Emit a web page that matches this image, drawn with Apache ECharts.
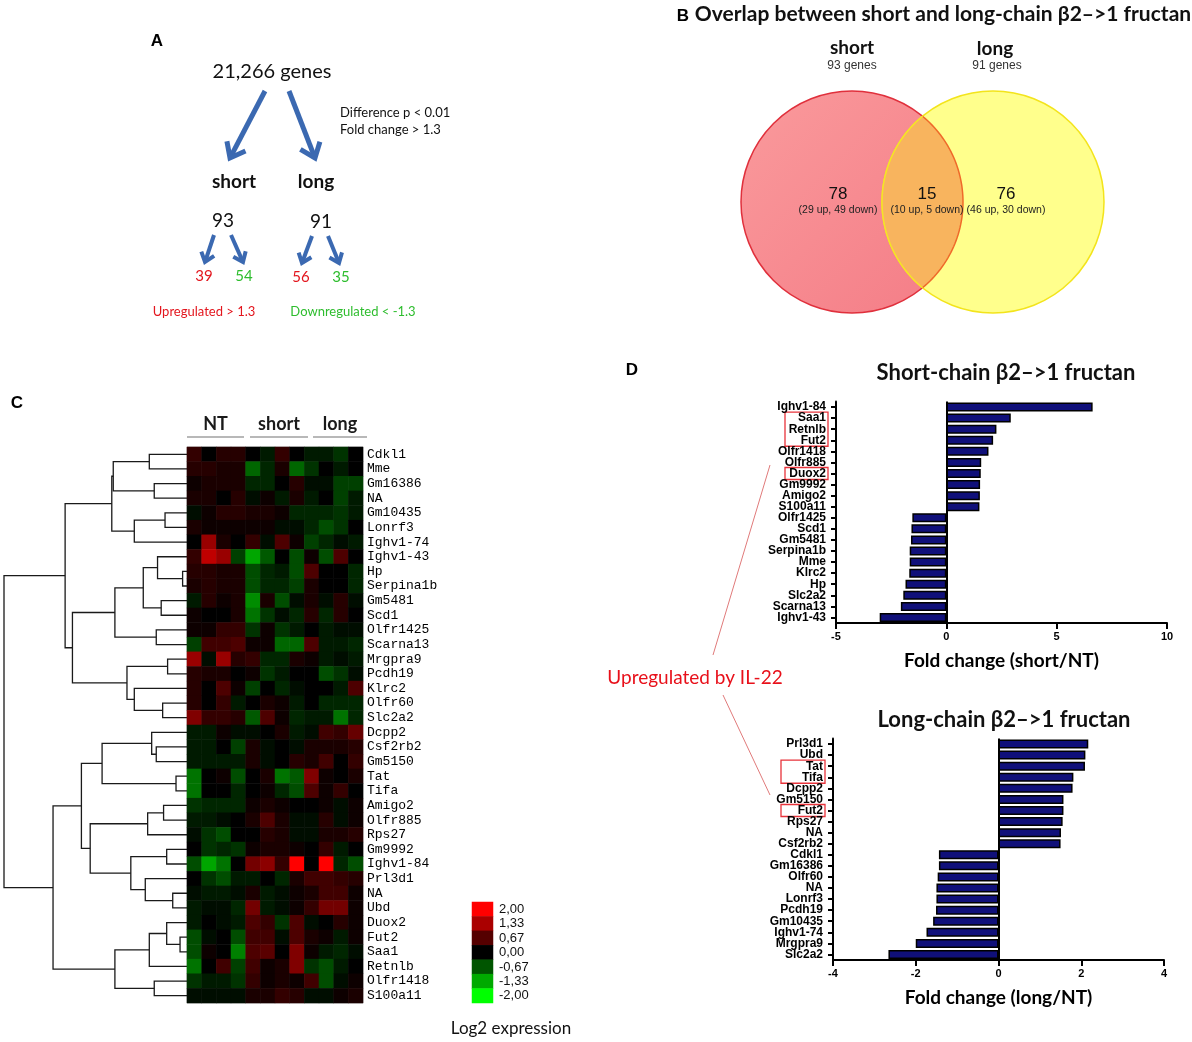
<!DOCTYPE html>
<html>
<head>
<meta charset="utf-8">
<script src="https://cdn.jsdelivr.net/npm/echarts@6/dist/echarts.min.js"></script>
<style>html,body{margin:0;padding:0;background:#fff}#c{width:1192px;height:1042px}</style>
</head>
<body>
<div id="c"></div>
<script>
// ---------------- DATA ----------------
// Panel A
const totalLabel = '21,266 genes';
const criteria = ['Difference p < 0.01', 'Fold change > 1.3'];
const groups = ['short', 'long'];
const groupTotals = [93, 91];
const groupUp = [39, 56];
const groupDown = [54, 35];
const regLabels = ['Upregulated > 1.3', 'Downregulated < -1.3'];

// Panel B (Venn)
const vennTitle = 'Overlap between short and long-chain \u03b22\u2013>1 fructan';
const vennSets = ['short', 'long'];
const vennSetSizes = ['93 genes', '91 genes'];
const vennCounts = [78, 15, 76];
const vennDetails = ['(29 up, 49 down)', '(10 up, 5 down)', '(46 up, 30 down)'];

// Panel C (heatmap)
const heatGroups = ['NT', 'short', 'long'];
const heatColumns = ['NT1','NT2','NT3','NT4','S1','S2','S3','S4','L1','L2','L3','L4'];
const heatGenes = ['Cdkl1','Mme','Gm16386','NA','Gm10435','Lonrf3','Ighv1-74','Ighv1-43','Hp','Serpina1b',
  'Gm5481','Scd1','Olfr1425','Scarna13','Mrgpra9','Pcdh19','Klrc2','Olfr60','Slc2a2','Dcpp2',
  'Csf2rb2','Gm5150','Tat','Tifa','Amigo2','Olfr885','Rps27','Gm9992','Ighv1-84','Prl3d1',
  'NA','Ubd','Duox2','Fut2','Saa1','Retnlb','Olfr1418','S100a11'];
const heatValues = [
 [0.4,0,0.3,0.3,0,-0.2,0.4,0,-0.2,-0.2,-0.4,0],
 [0.3,0.3,0.2,0.2,-0.8,-0.3,0.2,-0.8,-0.4,0,-0.2,0],
 [0.1,0.2,0.2,0.2,-0.3,-0.3,0,0.3,-0.1,-0.1,-0.5,-0.5],
 [0.2,0.2,0,0.3,-0.1,0.1,-0.2,0.2,-0.2,0,-0.5,-0.2],
 [-0.1,0.1,0.3,0.3,0.2,0.2,0.1,-0.3,-0.3,-0.3,-0.4,-0.2],
 [0.2,0.1,0.1,0.1,0.1,0.1,-0.1,-0.1,-0.3,-0.6,-0.4,0],
 [0,1.2,0.2,0,0.4,-0.1,0.6,0.1,-0.5,-0.3,-0.1,-0.2],
 [0.4,1.5,1.2,-0.5,-1.3,-0.7,0,-0.6,0.1,-0.6,0.6,0],
 [0.3,0.3,0.2,0.2,-0.6,-0.3,-0.2,-0.6,0.6,0,0,-0.3],
 [0.2,0.3,0.2,0.2,-0.6,-0.3,-0.3,-0.5,0.2,0,0,-0.3],
 [-0.2,0.3,0.1,0.2,-1.1,0.2,-0.6,-0.1,0.2,-0.1,0.3,-0.1],
 [0.1,0,0,0.2,-0.9,-0.4,-0.1,-0.3,0.3,-0.3,0.3,0],
 [0.1,0.1,0.4,0.4,-0.4,0.1,-0.4,-0.2,0,-0.2,-0.1,-0.1],
 [-0.5,0.5,0.5,0.6,0.1,0.1,-0.8,-0.8,0.6,-0.2,-0.2,-0.3],
 [1.2,-0.1,1.2,0.3,0.4,-0.3,-0.3,0.2,0.1,-0.2,-0.1,-0.2],
 [0.3,0.2,0.2,0,0.1,-0.4,-0.2,0,0,-0.6,-0.4,-0.1],
 [0.3,0,0.6,0.1,-0.5,0,-0.3,-0.1,0,0,-0.2,0.6],
 [0.3,0,0.4,-0.2,0,0.2,0.1,-0.2,0,-0.3,-0.3,-0.3],
 [1.0,0.4,0.4,0.3,-0.7,0.6,0.1,-0.3,-0.2,-0.2,-0.9,-0.3],
 [-0.2,-0.2,0.1,-0.1,-0.1,0,0.2,-0.2,-0.1,0.5,0.4,0.8],
 [-0.2,-0.2,0,-0.5,0.2,-0.1,0,-0.1,0.2,0.2,0.2,0.3],
 [-0.2,-0.2,-0.2,-0.2,0.2,-0.1,0,0.3,0.2,0.5,0,0.4],
 [-0.9,0,0.1,-0.6,0,0.2,-0.9,-0.7,1.0,0.1,0,0.2],
 [-0.9,0,0,-0.3,0,0.1,-0.3,-0.6,0.6,0.1,0.4,0],
 [-0.4,-0.3,-0.3,-0.3,0.1,0.2,0.1,0,0,0.1,-0.1,0.1],
 [-0.2,-0.2,-0.1,0,0.2,0.6,0.2,-0.1,-0.1,0.3,-0.1,0.1],
 [-0.1,-0.4,-0.6,0,0,0.3,0.2,-0.1,-0.1,0.2,0.2,0.3],
 [0,-0.4,-0.3,-0.4,0.1,0.2,0.2,0.1,0,0.4,-0.2,0],
 [-0.6,-1.3,-0.9,0,0.9,1.1,0.4,2.0,0,2.0,-0.3,-0.6],
 [0,-0.4,-0.6,-0.2,-0.2,0,-0.3,0.2,0.5,0.5,0.4,0.3],
 [-0.1,-0.2,-0.2,-0.1,0.2,-0.2,-0.1,0.1,0.2,0.5,0.5,0.1],
 [-0.2,-0.1,-0.1,-0.3,0.9,-0.2,-0.1,0.1,0.4,0.9,0.9,0.1],
 [-0.2,0,-0.1,-0.2,0.6,0.4,-0.4,0.6,-0.1,0,0.3,0.1],
 [-0.6,-0.1,0,-0.6,0.5,0.5,-0.1,0.6,0.2,0.1,-0.2,0.1],
 [-0.6,0.1,0,-1.0,0.6,0.7,0,1.0,0.1,-0.2,-0.3,-0.1],
 [-0.9,0,0.5,-0.5,0.5,0.1,0.2,1.0,-0.4,-0.6,-0.2,0],
 [-0.4,-0.2,-0.2,-0.4,0.4,0.1,0.2,0.1,0.5,-0.6,-0.1,0.1],
 [-0.1,-0.1,-0.1,-0.1,0.2,0.2,0.4,0.3,-0.1,-0.1,0.1,0.2]
];
// dendrogram: [height, left, right]; leaves are row indices
const dendroTree = [1.0,
  [0.666,
    [0.411, [0.403, [0.206, 0, 1], [0.179, 2, 3]], [0.288, [0.120, 4, 5], 6]],
    [0.626,
      [0.394, [0.239, [0.161, 7, [0.024, 8, 9]], [0.141, 10, 11]], [0.168, 12, 13]],
      [0.328, [0.106, 14, 15], [0.288, 16, [0.133, 17, 18]]]]],
  [0.732,
    [0.577,
      [0.464, [0.193, 19, [0.168, 20, 21]], [0.060, 22, 23]],
      [0.529, [0.215, [0.128, 24, 25], 26], [0.307, [0.111, 27, 28], [0.228, 29, [0.078, 30, 31]]]]],
    [0.394, [0.206, [0.111, 32, [0.038, 33, 34]], 35], [0.179, 36, 37]]]
];
const legendTicks = ['2,00','1,33','0,67','0,00','-0,67','-1,33','-2,00'];
const legendValues = [2, 1.33, 0.67, 0, -0.67, -1.33, -2];
const legendTitle = 'Log2 expression';

// Panel D
const shortTitle = 'Short-chain \u03b22\u2013>1 fructan';
const shortGenes = ['Ighv1-84','Saa1','Retnlb','Fut2','Olfr1418','Olfr885','Duox2','Gm9992','Amigo2','S100a11',
  'Olfr1425','Scd1','Gm5481','Serpina1b','Mme','Klrc2','Hp','Slc2a2','Scarna13','Ighv1-43'];
const shortFold = [6.63, 2.92, 2.27, 2.12, 1.91, 1.58, 1.56, 1.53, 1.52, 1.50,
  -1.54, -1.58, -1.60, -1.66, -1.66, -1.68, -1.85, -1.95, -2.06, -3.02];
const longTitle = 'Long-chain \u03b22\u2013>1 fructan';
const longGenes = ['Prl3d1','Ubd','Tat','Tifa','Dcpp2','Gm5150','Fut2','Rps27','NA','Csf2rb2',
  'Cdkl1','Gm16386','Olfr60','NA','Lonrf3','Pcdh19','Gm10435','Ighv1-74','Mrgpra9','Slc2a2'];
const longFold = [2.17, 2.10, 2.09, 1.81, 1.79, 1.57, 1.57, 1.55, 1.51, 1.50,
  -1.44, -1.44, -1.47, -1.50, -1.50, -1.51, -1.58, -1.74, -2.00, -2.66];
const il22Label = 'Upregulated by IL-22';
const shortBoxed = [[1, 3], [6, 6]];
const longBoxed = [[2, 3], [6, 6]];

// ---------------- BUILD ----------------
const heatData = [];
heatValues.forEach((row, r) => row.forEach((v, c) => heatData.push([c, r, v])));

const dendroSegs = [];
(function walk(node) {
  if (typeof node === 'number') return { h: 0, y: node };
  const L = walk(node[1]), R = walk(node[2]);
  dendroSegs.push([node[0], L.h, L.y, R.h, R.y]);
  return { h: node[0], y: (L.y + R.y) / 2 };
})(dendroTree);

const chart = echarts.init(document.getElementById('c'), null, { renderer: 'canvas' });
const BAR = "'Liberation Sans', Arial, sans-serif";
const CAL = "Lato, 'Open Sans', sans-serif";

function barGridAxes(gi, min, max, interval, name, cats) {
  return {
    x: {
      type: 'value', gridIndex: gi, min, max, interval,
      axisLine: { show: true, lineStyle: { color: '#000', width: 2 } },
      axisTick: { show: true, length: 6, lineStyle: { color: '#000', width: 2 } },
      axisLabel: { color: '#000', fontFamily: BAR, fontWeight: 'bold', fontSize: 11, margin: 8 },
      splitLine: { show: false },
      name, nameLocation: 'middle', nameGap: 28,
      nameTextStyle: { color: '#000', fontFamily: CAL, fontWeight: 'bold', fontSize: 19 }
    },
    y: {
      type: 'category', gridIndex: gi, data: cats, inverse: true,
      axisLine: { show: true, onZero: false, lineStyle: { color: '#000', width: 2 } },
      axisTick: { show: true, alignWithLabel: true, length: 5, lineStyle: { color: '#000', width: 2 } },
      axisLabel: { color: '#000', fontFamily: BAR, fontWeight: 'bold', fontSize: 12, margin: 10, interval: 0 }
    }
  };
}
const b1 = barGridAxes(3, -5, 10, 5, 'Fold change (short/NT)', shortGenes);
const b2 = barGridAxes(4, -4, 4, 2, 'Fold change (long/NT)', longGenes);

function barSeries(gi, vals) {
  return {
    type: 'bar', xAxisIndex: gi, yAxisIndex: gi, data: vals, barWidth: 9,
    itemStyle: { color: '#10107a', borderColor: '#000', borderWidth: 1.5 },
    markLine: { silent: true, symbol: 'none', label: { show: false },
      lineStyle: { color: '#000', width: 2, type: 'solid' }, data: [{ xAxis: 0 }] },
    animation: false
  };
}

const option = {
  animation: false,
  grid: [
    { left: 4, top: 447, width: 183, height: 556 },
    { left: 187, top: 447, width: 176, height: 556, show: true, borderColor: '#b8b8b8', borderWidth: 1, backgroundColor: 'transparent' },
    { left: 472, top: 902, width: 21, height: 101 },
    { left: 836, top: 401.5, width: 331, height: 221.5 },
    { left: 833, top: 738.5, width: 331, height: 221.5 }
  ],
  xAxis: [
    { type: 'value', gridIndex: 0, min: 0, max: 1, inverse: true, show: false },
    { type: 'category', gridIndex: 1, data: heatColumns, show: false },
    { type: 'category', gridIndex: 2, data: ['k'], show: false },
    b1.x, b2.x
  ],
  yAxis: [
    { type: 'value', gridIndex: 0, min: -0.5, max: heatGenes.length - 0.5, inverse: true, show: false },
    { type: 'category', gridIndex: 1, data: heatGenes, inverse: true, position: 'right',
      axisLine: { show: false }, axisTick: { show: false },
      axisLabel: { color: '#000', fontFamily: "'Liberation Mono', 'DejaVu Sans Mono', monospace", fontSize: 13, margin: 4, interval: 0 } },
    { type: 'category', gridIndex: 2, data: legendTicks, inverse: true, position: 'right',
      axisLine: { show: false }, axisTick: { show: false },
      axisLabel: { color: '#111', fontFamily: BAR, fontSize: 13, margin: 6, interval: 0 } },
    b1.y, b2.y
  ],
  visualMap: {
    show: false, type: 'continuous', min: -2, max: 2, seriesIndex: [1, 2],
    inRange: { color: ['#00ff00', '#000000', '#ff0000'] }
  },
  series: [
    {
      type: 'custom', xAxisIndex: 0, yAxisIndex: 0, data: dendroSegs, silent: true,
      renderItem: function (params, api) {
        const h = api.value(0), hL = api.value(1), yL = api.value(2), hR = api.value(3), yR = api.value(4);
        const pts = [api.coord([hL, yL]), api.coord([h, yL]), api.coord([h, yR]), api.coord([hR, yR])];
        return { type: 'polyline', shape: { points: pts }, style: { stroke: '#1a1a1a', lineWidth: 1.3, fill: null } };
      }
    },
    { type: 'heatmap', xAxisIndex: 1, yAxisIndex: 1, data: heatData, silent: true },
    { type: 'heatmap', xAxisIndex: 2, yAxisIndex: 2, silent: true,
      data: legendValues.map((v, i) => [0, i, v]) },
    barSeries(3, shortFold),
    barSeries(4, longFold)
  ]
};
chart.setOption(option);

// ---------------- GRAPHICS (text, arrows, Venn, boxes) ----------------
const G = [];
function txt(x, y, text, font, fill, align) {
  G.push({ type: 'text', silent: true, style: { x, y, text, font, fill: fill || '#000',
    align: align || 'center', textAlign: align || 'center', verticalAlign: 'middle', textVerticalAlign: 'middle' } });
}
function line(x1, y1, x2, y2, stroke, w) {
  G.push({ type: 'line', silent: true, shape: { x1, y1, x2, y2 }, style: { stroke, lineWidth: w } });
}
function arrow(x1, y1, x2, y2, w, head) {
  const col = '#3b69b1';
  const dx = x2 - x1, dy = y2 - y1, L = Math.hypot(dx, dy), ux = dx / L, uy = dy / L;
  const a = 38 * Math.PI / 180;
  const w1 = [x2 - head * (ux * Math.cos(a) - uy * Math.sin(a)), y2 - head * (uy * Math.cos(a) + ux * Math.sin(a))];
  const w2 = [x2 - head * (ux * Math.cos(a) + uy * Math.sin(a)), y2 - head * (uy * Math.cos(a) - ux * Math.sin(a))];
  G.push({ type: 'polyline', silent: true, shape: { points: [[x1, y1], [x2 - ux * 1, y2 - uy * 1]] }, style: { stroke: col, lineWidth: w, lineCap: 'butt' } });
  G.push({ type: 'polyline', silent: true, shape: { points: [w1, [x2, y2], w2] }, style: { stroke: col, lineWidth: w, fill: null, lineJoin: 'miter', lineCap: 'butt' } });
}
function arcPts(cx, cy, r, a0, a1, n) {
  const p = [];
  for (let i = 0; i <= n; i++) { const a = a0 + (a1 - a0) * i / n; p.push([cx + r * Math.cos(a), cy + r * Math.sin(a)]); }
  return p;
}
// panel letters
txt(157, 41, 'A', 'bold 17px ' + BAR);
txt(683, 16, 'B', 'bold 17px ' + BAR);
txt(17, 403, 'C', 'bold 17px ' + BAR);
txt(632, 370, 'D', 'bold 17px ' + BAR);

// Panel A
txt(272, 72, totalLabel, '20px ' + CAL, '#111');
arrow(265, 91, 230, 158, 5, 17);
arrow(289, 91, 315, 158, 5, 17);
txt(340, 113, criteria[0], '13px ' + CAL, '#111', 'left');
txt(340, 130, criteria[1], '13px ' + CAL, '#111', 'left');
txt(234, 182, groups[0], 'bold 19px ' + CAL, '#111');
txt(316, 182, groups[1], 'bold 19px ' + CAL, '#111');
txt(223, 221, String(groupTotals[0]), '19px ' + CAL, '#111');
txt(321, 222, String(groupTotals[1]), '19px ' + CAL, '#111');
arrow(214, 235, 205, 262, 4, 11);
arrow(231, 235, 243, 262, 4, 11);
arrow(312, 236, 302, 263, 4, 11);
arrow(328, 236, 339, 263, 4, 11);
const RED = '#e3161e', GREEN = '#2ebd2e';
txt(204, 276, String(groupUp[0]), '15px ' + CAL, RED);
txt(244, 276, String(groupDown[0]), '15px ' + CAL, GREEN);
txt(301, 277, String(groupUp[1]), '15px ' + CAL, RED);
txt(341, 277, String(groupDown[1]), '15px ' + CAL, GREEN);
txt(204, 312, regLabels[0], '13px ' + CAL, RED);
txt(353, 312, regLabels[1], '13px ' + CAL, GREEN);

// Panel B: Venn
const c1 = { x: 852, y: 202 }, c2 = { x: 993, y: 202 }, R = 111;
const th = Math.acos(((c2.x - c1.x) / 2) / R);
txt(943, 14, vennTitle, 'bold 21px ' + CAL, '#111');
G.push({ type: 'circle', silent: true, shape: { cx: c1.x, cy: c1.y, r: R },
  style: { fill: new echarts.graphic.LinearGradient(0, 0, 1, 1, [{ offset: 0, color: '#fa9a9c' }, { offset: 1, color: '#f47c86' }]),
    stroke: '#e0303c', lineWidth: 1.5 } });
G.push({ type: 'circle', silent: true, shape: { cx: c2.x, cy: c2.y, r: R },
  style: { fill: '#ffff8c', stroke: '#f3e41c', lineWidth: 1.5 } });
const arc1 = arcPts(c1.x, c1.y, R, -th, th, 60);
const arc2 = arcPts(c2.x, c2.y, R, Math.PI - th, Math.PI + th, 60);
G.push({ type: 'polygon', silent: true, shape: { points: arc1.concat(arc2) }, style: { fill: '#f8b45e', stroke: null } });
G.push({ type: 'polyline', silent: true, shape: { points: arc1 }, style: { fill: null, stroke: '#ef6a2a', lineWidth: 1.5 } });
G.push({ type: 'polyline', silent: true, shape: { points: arc2 }, style: { fill: null, stroke: '#f5e426', lineWidth: 1.5 } });
txt(852, 48, vennSets[0], 'bold 19px ' + CAL, '#111');
txt(995, 49, vennSets[1], 'bold 19px ' + CAL, '#111');
txt(852, 66, vennSetSizes[0], '12px ' + BAR, '#333');
txt(997, 66, vennSetSizes[1], '12px ' + BAR, '#333');
const vx = [838, 927, 1006];
vx.forEach((x, i) => {
  txt(x, 194, String(vennCounts[i]), '17px ' + BAR, '#111');
  txt(x, 210, vennDetails[i], '10.5px ' + BAR, '#222');
});

// Panel C headers and legend title
const hdr = [[187, 244], [250, 308], [313, 367]];
hdr.forEach((s, i) => {
  txt((s[0] + s[1]) / 2, 424, heatGroups[i], 'bold 18px ' + CAL, '#1a1a1a');
  line(s[0], 437, s[1], 437, '#a0a0a0', 1.5);
});
txt(511, 1029, legendTitle, '17px ' + CAL, '#111');

// Panel D titles, boxes, IL-22 annotation
txt(1006, 373, shortTitle, 'bold 22px ' + CAL, '#111');
txt(1004, 720, longTitle, 'bold 22px ' + CAL, '#111');
function boxes(axisIdx, list, xl, xr) {
  list.forEach(b => {
    const ya = chart.convertToPixel({ yAxisIndex: axisIdx }, b[0]);
    const yb = chart.convertToPixel({ yAxisIndex: axisIdx }, b[1]);
    G.push({ type: 'rect', silent: true, shape: { x: xl, y: ya - 6, width: xr - xl, height: yb - ya + 12 },
      style: { fill: null, stroke: '#e8333b', lineWidth: 1.3 } });
  });
}
boxes(3, shortBoxed, 785, 828);
boxes(4, longBoxed, 781, 825);
txt(695, 678, il22Label, '19px ' + CAL, '#e8101a');
line(770, 465, 713, 655, '#e07a7a', 1);
line(723, 695, 770, 795, '#e07a7a', 1);

chart.setOption({ graphic: { elements: G } });
</script>
</body>
</html>
